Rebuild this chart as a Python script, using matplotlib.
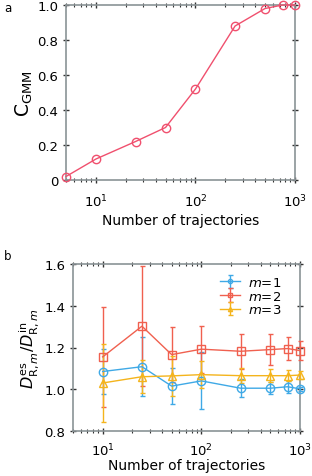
import matplotlib
matplotlib.use("Agg")
import matplotlib.pyplot as plt
from matplotlib.ticker import LogLocator, NullFormatter, FixedLocator

plt.rcParams['font.family'] = ['DejaVu Sans']
plt.rcParams['mathtext.fontset'] = 'dejavusans'

# Panel a data
n_a = [5, 10, 25, 50, 100, 250, 500, 750, 1000]
c_gmm = [0.02, 0.12, 0.22, 0.30, 0.52, 0.88, 0.98, 1.0, 1.0]

# Panel b data
n_b = [10, 25, 50, 100, 250, 500, 750, 1000]
m1 = [1.085, 1.108, 1.015, 1.040, 1.005, 1.005, 1.012, 1.002]
m1_err = [0.107, 0.142, 0.085, 0.137, 0.042, 0.030, 0.028, 0.010]
m2 = [1.155, 1.302, 1.166, 1.192, 1.182, 1.190, 1.195, 1.185]
m2_err = [0.240, 0.288, 0.132, 0.112, 0.084, 0.075, 0.057, 0.045]
m3 = [1.030, 1.060, 1.064, 1.070, 1.065, 1.065, 1.065, 1.068]
m3_err = [0.185, 0.078, 0.095, 0.065, 0.035, 0.030, 0.025, 0.020]
labels_b = [r'$m$=1', r'$m$=2', r'$m$=3']

spine_col = '#8a9396'
tick_col = '#333333'
fs = 9.5

fig = plt.figure(figsize=(3.12, 4.77), dpi=100)
W, H = 312, 477

def style(ax, xpad, lpad):
    for s in ax.spines.values():
        s.set_color(spine_col)
        s.set_linewidth(1.2)
    ax.set_xscale('log')
    ax.tick_params(which='major', direction='inout', length=5, width=1,
                   color=tick_col, top=True, right=True, labelsize=fs, pad=3)
    ax.tick_params(axis='x', which='major', pad=xpad)
    ax.tick_params(which='minor', direction='inout', length=3, width=0.8,
                   color=tick_col, top=True, right=True)
    ax.xaxis.set_major_locator(FixedLocator([10, 100, 1000]))
    ax.xaxis.set_major_formatter(matplotlib.ticker.LogFormatterMathtext())
    ax.xaxis.set_minor_locator(LogLocator(base=10, subs=range(2, 10), numticks=20))
    ax.xaxis.set_minor_formatter(NullFormatter())
    ax.set_xlabel('Number of trajectories', fontsize=fs + 0.5, labelpad=lpad)

# Panel a
axa = fig.add_axes([66 / W, 1 - 181 / H, (295 - 66) / W, (181 - 6) / H])
style(axa, 7, 2)
axa.plot(n_a, c_gmm, color='#f0506e', lw=1.0, marker='o', ms=6,
         mfc='none', mec='#f0506e', mew=1.0, clip_on=False, zorder=5)
axa.set_xlim(5, 1000)
axa.set_ylim(0, 1.0)
axa.set_yticks([0, 0.2, 0.4, 0.6, 0.8, 1.0])
axa.set_yticklabels(['0', '0.2', '0.4', '0.6', '0.8', '1.0'])
axa.set_ylabel(r'$\mathregular{C_{GMM}}$', fontsize=fs + 4, labelpad=2)
fig.text(4 / W, 1 - 9 / H, 'a', fontsize=fs - 1, va='center', ha='left')

# Panel b
axb = fig.add_axes([73 / W, 1 - 432 / H, (300 - 73) / W, (432 - 265) / H])
style(axb, 5, 0)
cols = ['#3fa9e6', '#f0604f', '#f4b41c']
mks = ['o', 's', '^']
series = [(m1, m1_err), (m2, m2_err), (m3, m3_err)]
for (vals, errs), c, mk, lab in zip(series, cols, mks, labels_b):
    axb.errorbar(n_b, vals, yerr=errs, color=c, lw=1.0, elinewidth=1.0,
                 capsize=1.8, capthick=1.0, marker=mk, ms=6, mfc='none',
                 mec=c, mew=1.0, label=lab, clip_on=False, zorder=5)
axb.set_xlim(5, 1000)
axb.set_ylim(0.8, 1.6)
axb.set_yticks([0.8, 1.0, 1.2, 1.4, 1.6])
axb.set_yticklabels(['0.8', '1.0', '1.2', '1.4', '1.6'])
axb.set_ylabel(r'$D^{\rm es}_{{\rm R},m}/D^{\rm in}_{{\rm R},m}$',
               fontsize=fs + 2, labelpad=2)
leg = axb.legend(loc='upper right', frameon=False, fontsize=fs,
                 handlelength=1.5, handletextpad=0.6,
                 borderaxespad=0.5, labelspacing=0.05,
                 markerscale=0.5, bbox_to_anchor=(0.97, 1.0))
fig.text(4 / W, 1 - 257 / H, 'b', fontsize=fs - 1, va='center', ha='left')

fig.savefig('out.png', dpi=100)
